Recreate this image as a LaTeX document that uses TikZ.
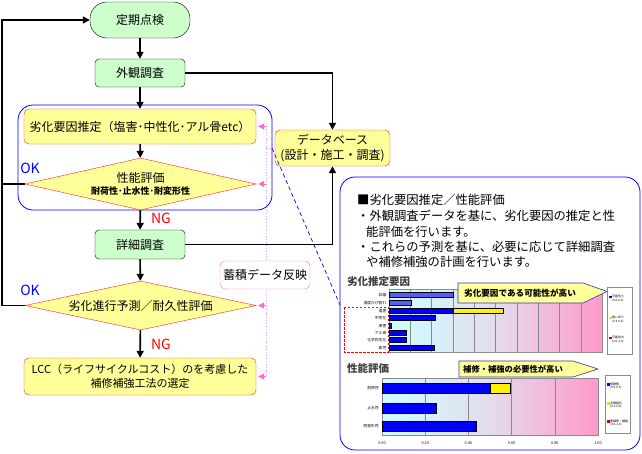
\documentclass[tikz,border=0pt]{standalone}
\usepackage{fontspec}
\setmainfont{Noto Sans CJK JP}
\usetikzlibrary{shapes.geometric,arrows.meta,calc}
\definecolor{gfill}{HTML}{CCFFCC}
\definecolor{yfill}{HTML}{FFFF99}
\definecolor{rborder}{HTML}{FF2222}
\definecolor{pinkc}{HTML}{FF66CC}
\definecolor{pinkd}{HTML}{FF99DD}
\definecolor{cbl}{HTML}{0000FF}
\definecolor{cyanl}{HTML}{CCFFFF}
\definecolor{lav}{HTML}{E4DCEE}
\definecolor{pinkr}{HTML}{FF99CC}
\definecolor{gridc}{HTML}{8A8A8A}
\definecolor{headc}{HTML}{404040}
\definecolor{callb}{HTML}{3333AA}
\newcommand\fsz[2]{\fontsize{#1}{#2}\selectfont}
\begin{document}
\begin{tikzpicture}[x=1pt,y=-1pt,
  flowline/.style={line width=1.6pt,draw=black},
  flowarrow/.style={flowline,-{Triangle[length=7pt,width=7pt]}},
  gbox/.style={draw=black,fill=gfill,rounded corners=4pt,minimum width=90pt,minimum height=28pt,inner sep=0pt,font=\fsz{12}{14}},
  ybox/.style={draw=rborder,fill=yfill,rounded corners=5pt,inner sep=0pt,align=center,font=\fsz{12}{15}},
  ydiam/.style={diamond,draw=rborder,fill=yfill,inner sep=0pt,align=center,font=\fsz{12}{15}},
  pinkdot/.style={draw=pinkd,line width=0.9pt,dotted},
  pinkarr/.style={draw=pinkc,line width=0.6pt,-{Triangle[length=6pt,width=6pt]}},
  oklab/.style={text=cbl,font=\fsz{14}{16}},
  nglab/.style={text=red,font=\fsz{14}{16}},
  ptext/.style={anchor=west,inner sep=0pt,font=\fsz{12.3}{14}},
  tiny/.style={inner sep=0pt,font=\fsz{3.8}{4.5}},
  legt/.style={anchor=west,inner sep=0pt,font=\fsz{3}{3.6},align=left},
  bar/.style={draw=black,line width=0.3pt,fill=cbl},
  ybar/.style={draw=black,line width=0.3pt,fill=yellow},
  callout/.style={draw=callb,line width=0.6pt,fill=yfill},
  chead/.style={anchor=west,inner sep=0pt,text=headc,font=\fsz{10.5}{12}\bfseries}
]
\useasboundingbox (0,0) rectangle (642,453);

% ---- blue container
\node[draw=cbl,line width=0.8pt,rounded corners=15pt,minimum width=254pt,minimum height=105pt] (cont) at (145,157.5) {};

% ---- pink dotted reflection line
\coordinate (pt) at (266,123);
\coordinate (pb) at (266,377);
\draw[pinkdot] (pt) -- (pb);

% ---- nodes
\node[draw=black,fill=gfill,rounded corners=17pt,minimum width=100pt,minimum height=36pt,inner sep=0pt,font=\fsz{12}{14}] (start) at (140,20) {定期点検};
\node[gbox] (gaikan) at (140,73) {外観調査};
\node[ybox,minimum width=232pt,minimum height=35pt] (rekka) at (140,126.5) {劣化要因推定（塩害･中性化･アル骨etc）};
\node[ydiam,aspect=4.44,minimum width=231pt,minimum height=52pt] (seino) at (140.5,184) {性能評価\\[-3pt]{\fsz{9}{10}\bfseries 耐荷性･止水性･耐変形性}};
\node[gbox,minimum height=29pt] (shosai) at (140,244.5) {詳細調査};
\node[ydiam,aspect=4.7,minimum width=231pt,minimum height=49pt] (yosoku) at (140.5,305.5) {劣化進行予測／耐久性評価};
\node[ybox,minimum width=232pt,minimum height=37pt,font=\fsz{11}{14}] (lcc) at (140,376.5) {LCC（ライフサイクルコスト）のを考慮した\\補修補強工法の選定};
\node[ybox,minimum width=115pt,minimum height=36pt] (db) at (332.5,148) {データベース\\(設計・施工・調査)};
\node[draw=pinkc,fill=white,rounded corners=5pt,minimum width=90pt,minimum height=28pt,inner sep=0pt,font=\fsz{12}{14}] (chik) at (265,275) {蓄積データ反映};

% ---- labels
\node[oklab] (ok1) at (30,168) {OK};
\node[oklab] (ok2) at (30,290) {OK};
\node[nglab] (ng1) at (161,218) {NG};
\node[nglab] (ng2) at (161,344) {NG};

% ---- flow connectors
\draw[flowarrow] (start) -- (gaikan);
\draw[flowarrow] (gaikan) -- (rekka);
\draw[flowarrow] (rekka) -- (seino);
\draw[flowarrow] (seino) -- (shosai);
\draw[flowarrow] (shosai) -- (yosoku);
\draw[flowarrow] (yosoku) -- (lcc);
\coordinate (lt) at (2,20);
\coordinate (lb) at (2,305.5);
\draw[flowarrow] (yosoku.west) -- (lb) -- (lt) -- (start.west);
\draw[flowline] (seino.west) -- (seino.west -| lt);
\draw[flowarrow] (gaikan.east) -| (db.north);
\draw[flowarrow] (shosai.east) -| (db.south);

% ---- pink arrows
\draw[pinkdot] (db.west -| pt) -- (db.west);
\draw[pinkarr] (rekka.east -| pt) -- ([xshift=2pt]rekka.east);
\draw[pinkarr] (seino.east -| pt) -- ([xshift=2pt]seino.east);
\draw[pinkarr] (yosoku.east -| pt) -- ([xshift=2pt]yosoku.east);
\draw[pinkarr] (lcc.east -| pt) -- ([xshift=2pt]lcc.east);

% ---- right panel
\node[draw=cbl,line width=0.8pt,rounded corners=15pt,fill=white,minimum width=300pt,minimum height=273pt] (panel) at (490,313.5) {};
\coordinate (dA) at (272,148);
\coordinate (dB) at (340,305);
\draw[cbl,dashed,line width=0.7pt,dash pattern=on 4pt off 3pt] (dA) -- (dB);

\node[ptext] (p1) at (357,200) {■劣化要因推定／性能評価};
\node[ptext] (p2) at (357,216) {・外観調査データを基に、劣化要因の推定と性};
\node[ptext] (p3) at (366,231.5) {能評価を行います。};
\node[ptext] (p4) at (357,247) {・これらの予測を基に、必要に応じて詳細調査};
\node[ptext] (p5) at (366,262) {や補修補強の計画を行います。};

% ---- chart 1
\node[chead] (h1) at (347,282) {劣化推定要因};
\shade[left color=cyanl,right color=pinkr,middle color=lav] (389,289) rectangle (602,352);
\foreach \i in {1,...,9} \draw[gridc,line width=0.4pt] (389+21.3*\i,289) -- (389+21.3*\i,352);
\draw[gridc,line width=0.5pt] (389,289) rectangle (602,352);
\draw[draw=black,line width=0.3pt,fill=cbl!65!white] (389,292.5) rectangle (453,297.5);
\draw[draw=black,line width=0.3pt,fill=cbl!65!white] (389,300.5) rectangle (411,305.5);
\draw[bar] (389,308.5) rectangle (453,313.5);
\draw[ybar] (453,308.5) rectangle (503,313.5);
\draw[bar] (389,315.5) rectangle (435,320.5);
\draw[bar] (389,323.5) rectangle (391,328.5);
\draw[bar] (389,330.5) rectangle (406,335.5);
\draw[bar] (389,337.5) rectangle (406,342.5);
\draw[bar] (389,345.5) rectangle (434,350.5);
\foreach \yy/\lab in {295/収縮,303/温度ひび割れ,311/塩害,318/中性化,326/凍害,333/アル骨,340/化学的劣化,348/疲労}
  \node[tiny,anchor=east] at (386.5,\yy) {\lab};
\draw[red,dashed,line width=0.8pt,dash pattern=on 2.5pt off 1.5pt] (344,307) rectangle (388,352);
\draw[callout] (458,283) -- (583,283) -- (607,291.5) -- (583,303) -- (458,303) -- cycle;
\node[inner sep=0pt,font=\fsz{8.6}{10}\bfseries] (c1) at (520,293) {劣化要因である可能性が高い};
\draw[gridc,fill=white,line width=0.5pt] (607,287) rectangle (632,354);
\fill[cbl] (609,295.5) rectangle ++(2.5,2.5);
\node[legt] at (612,298.5) {可能性小\\(0.0-0.3)};
\fill[yellow!90!black] (609,316.5) rectangle ++(2.5,2.5);
\node[legt] at (612,319.5) {疑いあり\\(0.3-0.6)};
\fill[red!80!black] (609,336.5) rectangle ++(2.5,2.5);
\node[legt] at (612,339.5) {可能性大\\(0.6-1.0)};

% ---- chart 2
\node[chead] (h2) at (347,368) {性能評価};
\shade[left color=cyanl,right color=pinkr,middle color=lav] (382,378) rectangle (598,435);
\foreach \i in {1,...,4} \draw[gridc,line width=0.4pt] (382+43.2*\i,378) -- (382+43.2*\i,435);
\draw[gridc,line width=0.5pt] (382,378) rectangle (598,435);
\draw[bar] (382,383) rectangle (490,393);
\draw[ybar] (490,383) rectangle (510,393);
\draw[bar] (382,403) rectangle (436,413);
\draw[bar] (382,421) rectangle (476,431);
\foreach \yy/\lab in {388/耐荷性,408/止水性,426/耐変形性}
  \node[tiny,anchor=east] at (379,\yy) {\lab};
\foreach \i/\lab in {0/0.00,1/0.20,2/0.40,3/0.60,4/0.80,5/1.00}
  \node[tiny] at (382+43.2*\i,443) {\lab};
\draw[callout] (459,361) -- (573,361) -- (598,369) -- (573,377) -- (459,377) -- cycle;
\node[inner sep=0pt,font=\fsz{8.3}{10}\bfseries] (c2) at (513,369) {補修・補強の必要性が高い};
\draw[gridc,fill=white,line width=0.5pt] (605,375) rectangle (630,433);
\fill[cbl] (607,383) rectangle ++(2.5,2.5);
\node[legt] at (610,386) {問題無\\(0.0-0.3)};
\fill[yellow!90!black] (607,402) rectangle ++(2.5,2.5);
\node[legt] at (610,405) {点検強化\\(0.3-0.6)};
\fill[red!80!black] (607,420) rectangle ++(2.5,2.5);
\node[legt] at (610,423) {要補修・補強\\(0.6-1.0)};
\end{tikzpicture}
\end{document}
